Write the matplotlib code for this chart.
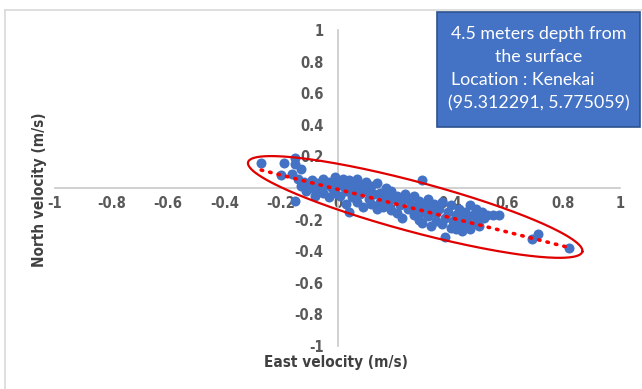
import numpy as np
import matplotlib
matplotlib.use("Agg")
import matplotlib.pyplot as plt
from matplotlib.patches import Rectangle

east_velocity = [
    -0.27, -0.19, -0.15, -0.15, -0.13, -0.20, -0.16, -0.14, -0.12, -0.13, -0.15, -0.11,
    -0.10, -0.09, -0.08, -0.07, -0.08, -0.06, -0.05, -0.05, -0.04, -0.03, -0.03, -0.02,
    -0.01, -0.01, 0.00, 0.01, 0.02, 0.02, 0.03, 0.03, 0.04, 0.04, 0.05, 0.05, 0.06, 0.07,
    0.07, 0.08, 0.08, 0.09, 0.10, 0.10, 0.11, 0.12, 0.12, 0.13, 0.14, 0.14, 0.15, 0.15,
    0.16, 0.17, 0.17, 0.18, 0.19, 0.19, 0.20, 0.21, 0.21, 0.22, 0.23, 0.23, 0.24, 0.25,
    0.25, 0.26, 0.27, 0.27, 0.28, 0.29, 0.29, 0.30, 0.30, 0.30, 0.31, 0.32, 0.32, 0.33,
    0.33, 0.34, 0.35, 0.35, 0.36, 0.37, 0.37, 0.38, 0.38, 0.39, 0.40, 0.40, 0.41, 0.42,
    0.42, 0.43, 0.43, 0.44, 0.44, 0.45, 0.46, 0.46, 0.47, 0.47, 0.48, 0.49, 0.49, 0.50,
    0.50, 0.51, 0.52, 0.53, 0.55, 0.57, 0.69, 0.71, 0.82,
]
north_velocity = [
    0.16, 0.16, 0.19, 0.15, 0.12, 0.08, 0.09, 0.06, 0.04, 0.01, -0.08, -0.02,
    0.02, 0.05, -0.01, 0.03, -0.05, 0.00, 0.06, -0.03, 0.02, -0.06, 0.04, 0.00,
    0.07, -0.03, 0.03, -0.05, 0.06, 0.01, -0.02, -0.10, 0.05, -0.15, 0.02, -0.06, -0.01, 0.06,
    -0.09, 0.02, -0.04, -0.12, 0.04, -0.02, -0.07, 0.01, -0.10, -0.04, 0.03, -0.13, -0.03, -0.09,
    -0.12, 0.00, -0.06, -0.10, -0.14, -0.02, -0.07, -0.16, -0.05, -0.11, -0.08, -0.19, -0.04, -0.13,
    -0.07, -0.11, -0.17, -0.05, -0.13, -0.20, -0.08, 0.05, -0.15, -0.22, -0.11, -0.07, -0.18, -0.14,
    -0.24, -0.10, -0.21, -0.16, -0.13, -0.09, -0.23, -0.31, -0.19, -0.15, -0.11, -0.25, -0.21, -0.17,
    -0.26, -0.13, -0.23, -0.27, -0.18, -0.15, -0.24, -0.20, -0.11, -0.26, -0.17, -0.22, -0.13, -0.18,
    -0.24, -0.15, -0.19, -0.17, -0.17, -0.17, -0.32, -0.29, -0.38,
]

# linear trendline as shown on the chart
trend_slope = -0.45
trend_intercept = -0.008

x_ticks = [-1, -0.8, -0.6, -0.4, -0.2, 0, 0.2, 0.4, 0.6, 0.8, 1]
y_ticks = [-1, -0.8, -0.6, -0.4, -0.2, 0, 0.2, 0.4, 0.6, 0.8, 1]
x_label = "East velocity (m/s)"
y_label = "North velocity (m/s)"
box_lines = ["4.5 meters depth from", "the surface", "Location : Kenekai", "(95.312291, 5.775059)"]

# ellipse (drawn in screen-proportional units, then mapped to data)
ELL_CENTER = (0.275, -0.12)
ELL_A_PX, ELL_B_PX, ELL_ANGLE = 173, 25, -15.0

W, H, DPI = 642, 389, 100
fig = plt.figure(figsize=(W / DPI, H / DPI), dpi=DPI)
fig.patch.set_facecolor("white")

# outer chart border
fig.add_artist(plt.Line2D([5 / W, 5 / W], [0, 1 - 10 / H], color="#d9d9d9", lw=1.2, transform=fig.transFigure))
fig.add_artist(plt.Line2D([5 / W, 1], [1 - 10 / H, 1 - 10 / H], color="#d9d9d9", lw=1.2, transform=fig.transFigure))

left, right = 55, 620
top, bottom = 30, 346
ax = fig.add_axes([left / W, 1 - bottom / H, (right - left) / W, (bottom - top) / H])
ax.set_xlim(-1, 1)
ax.set_ylim(-1, 1)
ax.patch.set_alpha(0)

for s in ["top", "right"]:
    ax.spines[s].set_visible(False)
ax.spines["left"].set_position(("data", 0))
ax.spines["bottom"].set_position(("data", 0))
for s in ["left", "bottom"]:
    ax.spines[s].set_color("#c8c8c8")
    ax.spines[s].set_linewidth(1.2)

tfont = dict(family="DejaVu Sans", stretch="condensed", fontweight="bold")
ax.set_xticks(x_ticks)
ax.set_yticks(y_ticks)
ax.set_xticklabels([f"{v:g}" for v in x_ticks], fontsize=10.5, color="#595959", **tfont)
ax.set_yticklabels([f"{v:g}" for v in y_ticks], fontsize=10.5, color="#595959", **tfont)
ax.tick_params(axis="x", length=0, pad=6)
ax.tick_params(axis="y", length=0, pad=10)

ax.scatter(east_velocity, north_velocity, s=52, color="#4472C4", zorder=3, linewidths=0)

# linear trendline
xs = np.array([min(east_velocity), max(east_velocity)])
ax.plot(xs, trend_slope * xs + trend_intercept, color="#FF0000", lw=2.6, linestyle=(0, (0.4, 2.0)),
        dash_capstyle="round", zorder=4)

# ellipse
sx = (right - left) / 2.0  # px per data unit (x)
sy = (bottom - top) / 2.0
t = np.linspace(0, 2 * np.pi, 400)
th = np.deg2rad(ELL_ANGLE)
px = ELL_A_PX * np.cos(t) * np.cos(th) - ELL_B_PX * np.sin(t) * np.sin(th)
py = ELL_A_PX * np.cos(t) * np.sin(th) + ELL_B_PX * np.sin(t) * np.cos(th)
ax.plot(ELL_CENTER[0] + px / sx, ELL_CENTER[1] + py / sy, color="#E00000", lw=1.6, zorder=5)

# axis titles
fig.text(336 / W, 1 - 362 / H, x_label, ha="center", va="center",
         fontsize=11, color="#404040", **tfont)
fig.text(40 / W, 1 - 190 / H, y_label, ha="center", va="center", rotation=90,
         fontsize=11, color="#404040", **tfont)

# info box
bx0, by0, bx1, by1 = 437, 12, 640, 127
fig.add_artist(Rectangle((bx0 / W, 1 - by1 / H), (bx1 - bx0) / W, (by1 - by0) / H,
                         transform=fig.transFigure, facecolor="#4472C4", edgecolor="#2F528F", lw=1.2))
box_font = ["Lato", "DejaVu Sans"]
cx = (bx0 + bx1) / 2
fs = 12.8
fig.text(cx / W, 1 - 34 / H, box_lines[0], ha="center", va="center", color="white", family=box_font, fontsize=fs)
fig.text(cx / W, 1 - 57 / H, box_lines[1], ha="center", va="center", color="white", family=box_font, fontsize=fs)
fig.text(451 / W, 1 - 80 / H, box_lines[2], ha="left", va="center", color="white", family=box_font, fontsize=fs)
fig.text(448 / W, 1 - 103 / H, box_lines[3], ha="left", va="center", color="white", family=box_font, fontsize=fs)

fig.savefig("out.png", dpi=DPI)
